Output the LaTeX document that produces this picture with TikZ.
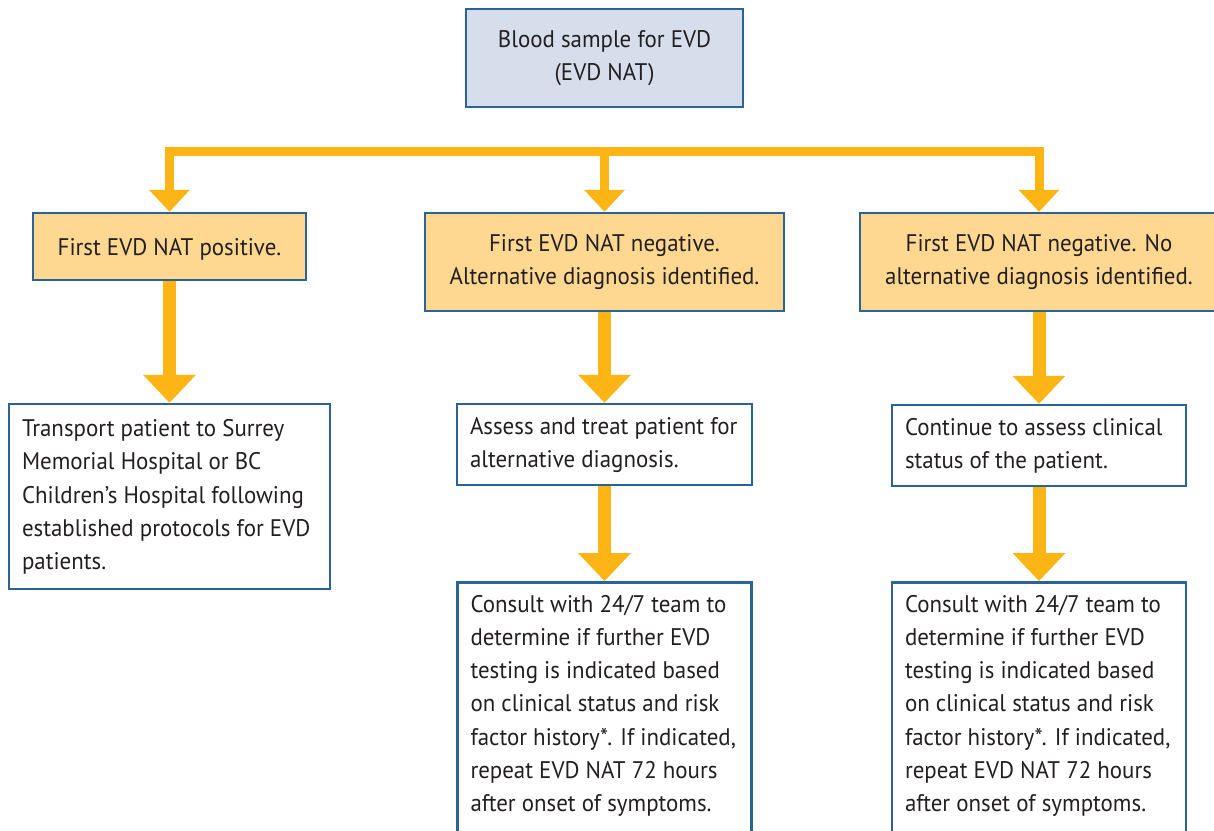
\documentclass[tikz,border=0pt]{standalone}
\usepackage{fontspec}
\setmainfont{PT Sans}[FakeStretch=0.955]
\usetikzlibrary{arrows.meta}
\definecolor{arrowc}{HTML}{FDB515}
\definecolor{boxline}{HTML}{2A6496}
\definecolor{topfill}{HTML}{D6DEEB}
\definecolor{orfill}{HTML}{FED891}
\definecolor{textc}{HTML}{231F20}
\newcommand{\lines}[2]{\makebox[#1][l]{\begin{tabular}{@{}l@{}}#2\end{tabular}}}
\newcommand{\toplines}[2]{\parbox[t][262pt][t]{#1}{\begin{tabular}[t]{@{}l@{}}#2\end{tabular}}}
\begin{document}
\begin{tikzpicture}[x=1pt,y=-1pt,
  box/.style={draw=boxline, line width=2.5pt, inner sep=0pt, text=textc,
    font=\fontsize{24}{33.2}\selectfont},
  cbox/.style={box, align=center, execute at begin node={\rule{0pt}{22.5pt}}},
  lbox/.style={box, fill=white},
  topconn/.style={draw=arrowc, line width=9pt,
    {Triangle[width=41pt,length=22pt,line width=0pt]}-{Triangle[width=41pt,length=22pt,line width=0pt]}},
  midconn/.style={draw=arrowc, line width=9pt,
    -{Triangle[width=41pt,length=22pt,line width=0pt]}},
  lowconn/.style={draw=arrowc, line width=13pt,
    -{Triangle[width=53pt,length=28pt,line width=0pt]}}
]
\useasboundingbox (0,0) rectangle (1214,830);
\clip (0,0) rectangle (1214,830);

% top box
\node[cbox, fill=topfill, minimum width=277pt, minimum height=98pt] (top) at (604.5,58)
  {Blood sample for EVD\\(EVD NAT)};

% second row
\node[cbox, fill=orfill, minimum width=273pt, minimum height=67pt] (b1) at (169.5,246.5)
  {First EVD NAT positive.};
\node[cbox, fill=orfill, minimum width=359pt, minimum height=98pt] (b2) at (604.5,262)
  {First EVD NAT negative.\\Alternative diagnosis identified.};
\node[cbox, fill=orfill, minimum width=358pt, minimum height=98pt] (b3) at (1039,262)
  {First EVD NAT negative. No\\alternative diagnosis identified.};

% third row
\node[lbox, minimum width=321pt, minimum height=185pt] (b4) at (169.5,496.5)
  {\lines{295pt}{Transport patient to Surrey\\Memorial Hospital or BC\\Children’s Hospital following\\established protocols for EVD\\patients.}};
\node[lbox, minimum width=295pt, minimum height=81pt] (b5) at (604.5,444.5)
  {\lines{269pt}{Assess and treat patient for\\alternative diagnosis.}};
\node[lbox, minimum width=294pt, minimum height=81pt] (b6) at (1039,445.5)
  {\lines{268pt}{Continue to assess clinical\\status of the patient.}};

% fourth row
\node[lbox, anchor=north, minimum width=294pt, inner ysep=6.8pt] (b7) at (604.5,581)
  {\toplines{268pt}{Consult with 24/7 team to\\determine if further EVD\\testing is indicated based\\on clinical status and risk\\factor history*. If indicated,\\repeat EVD NAT 72 hours\\after onset of symptoms.}};
\node[lbox, anchor=north, minimum width=294pt, inner ysep=6.8pt] (b8) at (1039,581)
  {\toplines{268pt}{Consult with 24/7 team to\\determine if further EVD\\testing is indicated based\\on clinical status and risk\\factor history*. If indicated,\\repeat EVD NAT 72 hours\\after onset of symptoms.}};

% connectors
\coordinate (bar) at (604.5,151.5);
\draw[topconn] (b1.north) |- (bar) -| (b3.north);
\draw[midconn] (bar) -- (b2.north);
\draw[lowconn] (b1.south) -- (b4.north);
\draw[lowconn] (b2.south) -- (b5.north);
\draw[lowconn] (b5.south) -- (b7.north);
\draw[lowconn] (b3.south) -- (b6.north);
\draw[lowconn] (b6.south) -- (b8.north);
\end{tikzpicture}
\end{document}
